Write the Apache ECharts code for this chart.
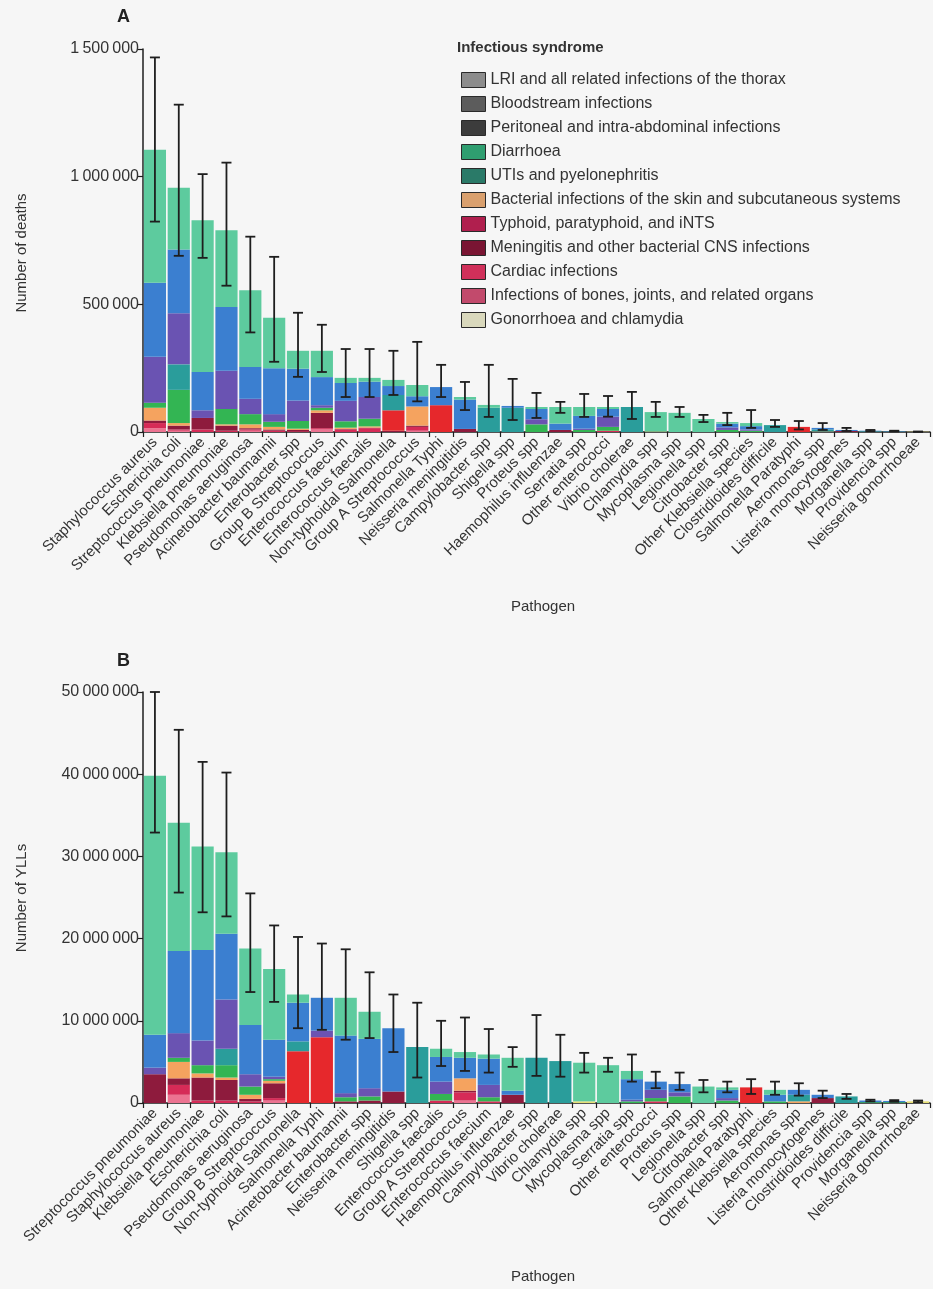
<!DOCTYPE html>
<html>
<head>
<meta charset="utf-8">
<script src="https://cdn.jsdelivr.net/npm/echarts@6/dist/echarts.min.js"></script>
<style>
  html, body { margin: 0; padding: 0; background: #f6f6f6; }
  #chart { width: 933px; height: 1289px; }
</style>
</head>
<body>
<div id="chart"></div>
<script>
// ---------------- DATA ----------------
const categoriesA = ["Staphylococcus aureus","Escherichia coli","Streptococcus pneumoniae","Klebsiella pneumoniae","Pseudomonas aeruginosa","Acinetobacter baumannii","Enterobacter spp","Group B Streptococcus","Enterococcus faecium","Enterococcus faecalis","Non-typhoidal Salmonella","Group A Streptococcus","Salmonella Typhi","Neisseria meningitidis","Campylobacter spp","Shigella spp","Proteus spp","Haemophilus influenzae","Serratia spp","Other enterococci","Vibrio cholerae","Chlamydia spp","Mycoplasma spp","Legionella spp","Citrobacter spp","Other Klebsiella species","Clostridioides difficile","Salmonella Paratyphi","Aeromonas spp","Listeria monocytogenes","Morganella spp","Providencia spp","Neisseria gonorrhoeae"];
const categoriesB = ["Streptococcus pneumoniae","Staphylococcus aureus","Klebsiella pneumoniae","Escherichia coli","Pseudomonas aeruginosa","Group B Streptococcus","Non-typhoidal Salmonella","Salmonella Typhi","Acinetobacter baumannii","Enterobacter spp","Neisseria meningitidis","Shigella spp","Enterococcus faecalis","Group A Streptococcus","Enterococcus faecium","Haemophilus influenzae","Campylobacter spp","Vibrio cholerae","Chlamydia spp","Mycoplasma spp","Serratia spp","Other enterococci","Proteus spp","Legionella spp","Citrobacter spp","Salmonella Paratyphi","Other Klebsiella species","Aeromonas spp","Listeria monocytogenes","Clostridioides difficile","Providencia spp","Morganella spp","Neisseria gonorrhoeae"];

const syndromes = ["LRI and all related infections of the thorax","Bloodstream infections","Peritoneal and intra-abdominal infections","Diarrhoea","UTIs and pyelonephritis","Bacterial infections of the skin and subcutaneous systems","Typhoid, paratyphoid, and iNTS","Meningitis and other bacterial CNS infections","Cardiac infections","Infections of bones, joints, and related organs","Gonorrhoea and chlamydia"];

// Panel A: number of deaths, in thousands
const deathsLRI      = [520,242,594,300,300,197,70,103,20,15,24,44,0,10,11,0,8,65,35,8,0,76,75,51,6,12,0,0,0,0,0,0,0];
const deathsBlood    = [290,250,150,250,125,180,125,110,70,60,35,40,71,115,0,7,40,25,50,30,0,0,0,0,15,13,0,0,6,4,3,2,0];
const deathsPerit    = [180,200,30,150,60,30,80,10,80,85,0,0,0,0,0,0,20,0,5,40,0,0,0,0,10,5,0,0,0,0,0,0,0];
const deathsDiarr    = [0,100,0,0,0,0,0,0,0,0,60,0,0,0,95,95,0,0,0,0,98,0,0,0,0,0,27,0,8,0,0,0,0];
const deathsUTI      = [20,130,0,60,40,20,30,10,25,30,0,0,0,0,0,0,30,0,8,15,0,0,0,0,8,5,0,0,0,0,2,1,0];
const deathsSkin     = [50,10,0,5,15,10,5,10,5,5,0,75,0,0,0,0,0,0,0,0,0,0,0,0,0,0,0,0,2,0,0,0,0];
const deathsTyphoid  = [0,0,0,0,0,0,0,0,0,0,80,0,105,0,0,0,0,0,0,0,0,0,0,0,0,0,0,20,0,0,0,0,0];
const deathsMening   = [10,15,45,20,5,5,5,60,2,2,5,5,0,12,0,0,0,8,0,0,0,0,0,0,0,0,0,0,0,4,0,0,0];
const deathsCardiac  = [20,5,10,5,5,5,3,5,10,15,0,15,0,0,0,0,0,0,0,5,0,0,0,0,0,0,0,0,0,0,0,0,0];
const deathsBones    = [15,5,0,0,5,0,0,10,0,0,0,5,0,0,0,0,0,0,0,0,0,0,0,0,0,0,0,0,0,0,0,0,0];
const deathsGon      = [0,0,0,0,0,0,0,0,0,0,0,0,0,0,0,0,0,0,0,0,0,2,0,0,0,0,0,0,0,0,0,0,1];
const deathsLower    = [824,690,682,573,390,275,216,235,137,137,145,120,137,86,59,47,55,75,59,60,51,59,59,39,27,16,20,10,8,4,3,2,0.5];
const deathsUpper    = [1467,1282,1010,1055,765,686,467,420,325,325,318,353,263,196,263,208,153,118,149,141,157,118,98,67,75,86,47,43,35,16,8,5,2];

// Panel B: number of YLLs, in millions
const yllsLRI      = [31.5,15.6,12.6,9.9,9.3,8.6,1.0,0,4.6,3.3,0,0,1.0,0.7,0.5,4.0,0,0,4.7,4.6,1.0,0,0,2.0,0.3,0,0.6,0,0,0,0,0,0];
const yllsBlood    = [4.0,10.0,11.0,8.0,6.0,4.5,4.7,4.0,7.0,6.0,7.7,0,3.0,2.5,3.2,0.5,0,0,0,0,2.5,1.0,1.0,0,1.0,0,0.8,0.6,0.4,0,0.2,0.15,0];
const yllsPerit    = [0.8,3.0,3.0,6.0,1.5,0.3,0,0.8,0.5,1.0,0,0,1.5,0,1.5,0,0,0,0,0,0.2,1.0,0.5,0,0.3,0,0,0,0,0,0,0,0];
const yllsDiarr    = [0,0,0,2.0,0,0,1.2,0,0,0,0,6.8,0,0,0,0,5.5,5.1,0,0,0,0,0,0,0,0,0,0.8,0,0.8,0,0,0];
const yllsUTI      = [0,0.5,1.0,1.5,1.0,0.2,0,0,0.5,0.5,0,0,0.8,0,0.5,0,0,0,0,0,0.2,0.4,0.8,0,0.3,0,0.2,0,0,0,0.1,0.1,0];
const yllsSkin     = [0,2.0,0.5,0.3,0.5,0.3,0,0,0,0,0,0,0,1.5,0,0,0,0,0,0,0,0,0,0,0,0,0,0.2,0,0,0,0,0];
const yllsTyphoid  = [0,0,0,0,0,0,6.3,8.0,0,0,0,0,0,0,0,0,0,0,0,0,0,0,0,0,0,1.9,0,0,0,0,0,0,0];
const yllsMening   = [3.5,0.8,2.8,2.5,0.3,1.8,0,0,0.2,0.3,1.4,0,0,0.2,0,1.0,0,0,0,0,0,0,0,0,0,0,0,0,0.6,0,0,0,0];
const yllsCardiac  = [0,1.2,0.3,0.3,0.2,0.3,0,0,0,0,0,0,0.3,1.0,0.2,0,0,0,0,0,0,0.2,0,0,0,0,0,0,0,0,0,0,0];
const yllsBones    = [0,1.0,0,0,0,0.3,0,0,0,0,0,0,0,0.3,0,0,0,0,0,0,0,0,0,0,0,0,0,0,0,0,0,0,0];
const yllsGon      = [0,0,0,0,0,0,0,0,0,0,0,0,0,0,0,0,0,0,0.2,0,0,0,0,0,0,0,0,0,0,0,0,0,0.2];
const yllsLower    = [32.9,25.6,23.2,22.7,13.5,12.3,9.1,8.9,7.7,7.9,6.2,3.1,4.5,3.9,3.7,4.4,3.3,3.2,3.7,3.8,2.6,1.8,1.6,1.3,1.3,1.1,1.0,0.9,0.6,0.5,0.2,0.15,0.1];
const yllsUpper    = [50.0,45.4,41.5,40.2,25.5,21.6,20.2,19.4,18.7,15.9,13.2,12.2,10.0,10.4,9.0,6.8,10.7,8.3,6.1,5.5,5.9,3.8,3.7,2.8,2.6,2.9,2.6,2.4,1.5,1.1,0.4,0.35,0.3];

const yTicksA = [0, 500000, 1000000, 1500000];
const yTicksB = [0, 10000000, 20000000, 30000000, 40000000, 50000000];

// ---------------- STYLE ----------------
const barColors = ['#5dcb9e','#3b7fd0','#6a53b2','#2a9d9b','#33b553','#f5a35f','#e6282c','#8e1b3d','#d62b57','#ec7391','#e6df74'];
const legendColors = ['#8c8c8c','#5c5c5c','#3c3c3c','#2f9e70','#2a7a68','#d9a06e','#b01f4e','#7a1533','#d0305a','#c24a6c','#d9d8bc'];
const FONT = 'Liberation Sans, Arial, sans-serif';

const deathsSets = [deathsLRI,deathsBlood,deathsPerit,deathsDiarr,deathsUTI,deathsSkin,deathsTyphoid,deathsMening,deathsCardiac,deathsBones,deathsGon];
const yllsSets   = [yllsLRI,yllsBlood,yllsPerit,yllsDiarr,yllsUTI,yllsSkin,yllsTyphoid,yllsMening,yllsCardiac,yllsBones,yllsGon];

function fmt(v) { return String(v).replace(/\B(?=(\d{3})+(?!\d))/g, '\u2009'); }

const series = [];
// stack bottom -> top is reverse of legend order
for (let k = syndromes.length - 1; k >= 0; k--) {
  series.push({
    type: 'bar', name: syndromes[k], stack: 'A', xAxisIndex: 0, yAxisIndex: 0,
    barCategoryGap: '7%', itemStyle: { color: barColors[k] },
    data: deathsSets[k].map(v => v * 1000), animation: false
  });
  series.push({
    type: 'bar', name: syndromes[k], stack: 'B', xAxisIndex: 1, yAxisIndex: 1,
    barCategoryGap: '7%', itemStyle: { color: barColors[k] },
    data: yllsSets[k].map(v => v * 1e6), animation: false
  });
}

function errRender(params, api) {
  const i = api.value(0);
  const lo = api.coord([i, api.value(1)]);
  const hi = api.coord([i, api.value(2)]);
  const w = 5;
  const st = { stroke: '#1e1e1e', lineWidth: 1.8 };
  return {
    type: 'group',
    children: [
      { type: 'line', shape: { x1: hi[0], y1: hi[1], x2: lo[0], y2: lo[1] }, style: st },
      { type: 'line', shape: { x1: hi[0] - w, y1: hi[1], x2: hi[0] + w, y2: hi[1] }, style: st },
      { type: 'line', shape: { x1: lo[0] - w, y1: lo[1], x2: lo[0] + w, y2: lo[1] }, style: st }
    ]
  };
}
series.push({
  type: 'custom', name: 'errA', xAxisIndex: 0, yAxisIndex: 0, renderItem: errRender, z: 10,
  encode: { x: 0, y: [1, 2] }, animation: false,
  data: deathsLower.map((v, i) => [i, v * 1000, deathsUpper[i] * 1000])
});
series.push({
  type: 'custom', name: 'errB', xAxisIndex: 1, yAxisIndex: 1, renderItem: errRender, z: 10,
  encode: { x: 0, y: [1, 2] }, animation: false,
  data: yllsLower.map((v, i) => [i, v * 1e6, yllsUpper[i] * 1e6])
});

function xAxisCfg(cats, gridIndex) {
  return {
    type: 'category', gridIndex, data: cats,
    axisLine: { lineStyle: { color: '#1e1e1e', width: 1.5 } },
    axisTick: { show: true, length: 5, lineStyle: { color: '#1e1e1e', width: 1.2 } },
    axisLabel: { interval: 0, rotate: 45, fontSize: 15, color: '#333', fontFamily: FONT, margin: 8 },
    splitLine: { show: false }
  };
}
function yAxisCfg(gridIndex, ticks) {
  return {
    type: 'value', gridIndex, min: ticks[0], max: ticks[ticks.length - 1],
    interval: ticks[1] - ticks[0],
    axisLine: { show: true, lineStyle: { color: '#1e1e1e', width: 1.5 } },
    axisTick: { show: true, length: 6, lineStyle: { color: '#1e1e1e', width: 1.2 } },
    axisLabel: { fontSize: 16, color: '#333', fontFamily: FONT, margin: 4, formatter: fmt },
    splitLine: { show: false }
  };
}

const option = {
  backgroundColor: '#f6f6f6',
  animation: false,
  textStyle: { fontFamily: FONT },
  grid: [
    { left: 143, top: 49, width: 787, height: 383, outerBoundsMode: 'none', containLabel: false },
    { left: 143, top: 692, width: 787, height: 411, outerBoundsMode: 'none', containLabel: false }
  ],
  xAxis: [xAxisCfg(categoriesA, 0), xAxisCfg(categoriesB, 1)],
  yAxis: [yAxisCfg(0, yTicksA), yAxisCfg(1, yTicksB)],
  legend: {
    orient: 'vertical', left: 456, top: 67,
    itemWidth: 24, itemHeight: 15, itemGap: 8,
    textStyle: { fontSize: 16, color: '#333', fontFamily: FONT, lineHeight: 16 },
    selectedMode: false,
    data: syndromes.map((s, k) => ({
      name: s, icon: 'rect',
      itemStyle: { color: legendColors[k], borderColor: '#2a2a2a', borderWidth: 1 }
    }))
  },
  graphic: [
    { type: 'text', left: 117, top: 8, style: { text: 'A', fontSize: 18, fontWeight: 'bold', fill: '#222', fontFamily: FONT } },
    { type: 'text', left: 117, top: 652, style: { text: 'B', fontSize: 18, fontWeight: 'bold', fill: '#222', fontFamily: FONT } },
    { type: 'text', left: 457, top: 40, style: { text: 'Infectious syndrome', fontSize: 15, fontWeight: 'bold', fill: '#333', fontFamily: FONT } },
    { type: 'text', x: 22, y: 253, rotation: Math.PI / 2,
      style: { text: 'Number of deaths', fontSize: 15, fill: '#333', fontFamily: FONT, textAlign: 'center', textVerticalAlign: 'middle' } },
    { type: 'text', x: 22, y: 898, rotation: Math.PI / 2,
      style: { text: 'Number of YLLs', fontSize: 15, fill: '#333', fontFamily: FONT, textAlign: 'center', textVerticalAlign: 'middle' } },
    { type: 'text', x: 543, y: 607,
      style: { text: 'Pathogen', fontSize: 15, fill: '#333', fontFamily: FONT, textAlign: 'center', textVerticalAlign: 'middle' } },
    { type: 'text', x: 543, y: 1277,
      style: { text: 'Pathogen', fontSize: 15, fill: '#333', fontFamily: FONT, textAlign: 'center', textVerticalAlign: 'middle' } }
  ],
  series
};

const chart = echarts.init(document.getElementById('chart'), null, { renderer: 'canvas' });
chart.setOption(option);
</script>
</body>
</html>
